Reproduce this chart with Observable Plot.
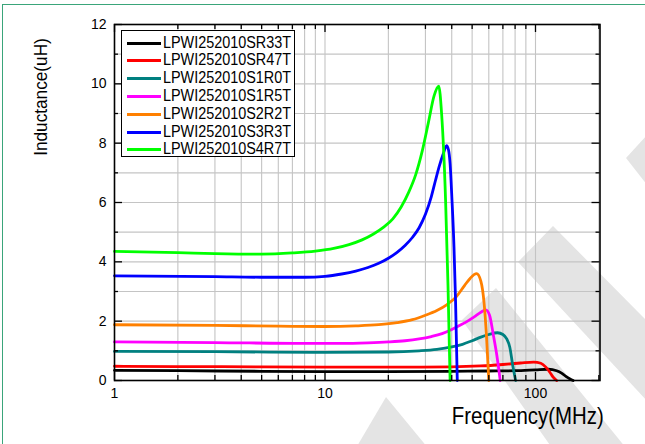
<!DOCTYPE html>
<html>
<head>
<meta charset="utf-8">
<script src="https://cdn.jsdelivr.net/npm/d3@7"></script>
<script src="https://cdn.jsdelivr.net/npm/@observablehq/plot@0.6"></script>
<style>
  html, body { margin: 0; padding: 0; background: #fff; }
  #wrap { position: relative; width: 645px; height: 444px; overflow: hidden; background: #fff;
          font-family: "Liberation Sans", Arial, sans-serif; }
  .wm { position: absolute; left: 0; top: 0; width: 645px; height: 444px; background: #e4e4e4; }
  #chart { position: absolute; left: 0; top: 0; }
  #chart svg { background: transparent !important; }
  .lbl { position: absolute; white-space: nowrap; color: #000; line-height: 1; }
  #legend { position: absolute; left: 121px; top: 30px; width: 172px; height: 125px;
            border: 1.5px solid #000; background: #fff; }
  .row { position: absolute; left: 0; height: 18px; width: 172px; }
  .row .sw { position: absolute; left: 5px; top: 8px; width: 34px; height: 3px; }
  .row .tx { position: absolute; left: 41px; top: 1px; font-size: 16px; line-height: 1;
             transform: scaleX(0.9); transform-origin: 0 0; white-space: nowrap; }
  #border { position: absolute; left: 2px; top: 4px; width: 800px; height: 600px;
            border-left: 1.5px solid #3aa57a; border-top: 1.5px solid #3aa57a; }
</style>
</head>
<body>
<div id="wrap">
  <div class="wm" style="clip-path: polygon(626px 158px, 648px 134px, 648px 186px);"></div>
  <div class="wm" style="clip-path: polygon(518px 262px, 553px 226px, 648px 322px, 648px 402px);"></div>
  <div class="wm" style="clip-path: polygon(462px 320px, 496px 288px, 626px 448px, 552px 448px);"></div>
  <div class="wm" style="clip-path: polygon(356px 448px, 386px 397px, 428px 448px);"></div>
  <div id="chart"></div>
  <div id="legend"></div>
  <div class="lbl" id="ylab" style="font-size:18.5px; left:41px; top:97px; transform: translate(-50%,-50%) rotate(-90deg) scaleX(0.93);">Inductance(uH)</div>
  <div class="lbl" id="xlab" style="font-size:24px; right:41px; top:404px; transform: scaleX(0.85); transform-origin: 100% 0;">Frequency(MHz)</div>
  <div id="border"></div>
</div>
<script>
// ---- data ----
const seriesNames = ["LPWI252010SR33T", "LPWI252010SR47T", "LPWI252010S1R0T", "LPWI252010S1R5T",
                     "LPWI252010S2R2T", "LPWI252010S3R3T", "LPWI252010S4R7T"];
const seriesColors = ["#000000", "#ff0000", "#008080", "#ff00ff", "#ff8000", "#0000ff", "#00ff00"];

const fSR33 = [1, 2, 5, 10, 20, 40, 60, 80, 100, 115, 126, 133, 140, 146, 151];
const lSR33 = [0.34, 0.33, 0.31, 0.30, 0.30, 0.31, 0.32, 0.33, 0.36, 0.38, 0.33, 0.25, 0.13, 0.05, 0];

const fSR47 = [1, 2, 5, 10, 20, 40, 55, 70, 85, 98, 106, 112, 117, 121, 126];
const lSR47 = [0.48, 0.47, 0.46, 0.45, 0.45, 0.46, 0.49, 0.54, 0.59, 0.62, 0.58, 0.45, 0.28, 0.12, 0];

const f1R0 = [1, 3, 10, 20, 28, 34, 40, 45, 50, 55, 60, 66, 70, 73, 75.5, 78, 80.5];
const l1R0 = [0.98, 0.97, 0.95, 0.96, 1.00, 1.05, 1.13, 1.22, 1.34, 1.46, 1.55, 1.61, 1.55, 1.40, 1.12, 0.50, 0];

const f1R5 = [1, 3, 8, 12, 16, 20, 24, 28, 32, 36, 40, 44, 48, 52, 55, 58, 60.5, 63, 65.5, 68];
const l1R5 = [1.30, 1.28, 1.25, 1.25, 1.27, 1.30, 1.34, 1.40, 1.48, 1.58, 1.72, 1.87, 2.02, 2.18, 2.30, 2.38, 2.20, 1.55, 0.85, 0];

const f2R2 = [1, 3, 6, 10, 14, 18, 22, 26, 30, 34, 38, 42, 46, 49, 52.5, 55, 57, 58.5, 60];
const l2R2 = [1.88, 1.86, 1.83, 1.82, 1.84, 1.88, 1.95, 2.05, 2.20, 2.36, 2.56, 2.82, 3.20, 3.45, 3.60, 3.35, 2.60, 1.50, 0];

const f3R3 = [1, 3, 5, 8, 10, 12, 14, 16, 18, 20, 22, 24, 26, 28, 30, 32, 33.5, 35, 36.5, 37.8, 38.6, 39.3, 40.1, 41.0, 41.7, 42.5];
const l3R3 = [3.53, 3.50, 3.48, 3.48, 3.51, 3.59, 3.69, 3.81, 3.95, 4.12, 4.32, 4.55, 4.82, 5.15, 5.60, 6.20, 6.75, 7.25, 7.65, 7.92, 7.78, 7.30, 6.10, 4.50, 2.70, 0];

const f4R7 = [1, 2, 3, 5, 7, 9, 11, 13, 15, 17, 19, 21, 23, 25, 27, 29, 31, 33, 34.7, 35.8, 37.4, 38.4, 39.3];
const l4R7 = [4.35, 4.31, 4.28, 4.26, 4.30, 4.36, 4.45, 4.58, 4.74, 4.94, 5.17, 5.45, 5.85, 6.35, 6.95, 7.75, 8.70, 9.60, 9.92, 9.00, 6.07, 3.20, 0];

const xTickLabels = [1, 10, 100];
const xMinor = [2, 3, 4, 5, 6, 7, 8, 9, 20, 30, 40, 50, 60, 70, 80, 90, 200];
const xGrid = [2, 3, 4, 5, 6, 7, 8, 9, 10, 20, 30, 40, 50, 60, 70, 80, 90, 100, 200];
const yTickLabels = [0, 2, 4, 6, 8, 10, 12];
const yMinor = [1, 3, 5, 7, 9, 11];
const yGrid = [1, 2, 3, 4, 5, 6, 7, 8, 9, 10, 11];

// ---- build table ----
const fArrays = [fSR33, fSR47, f1R0, f1R5, f2R2, f3R3, f4R7];
const lArrays = [lSR33, lSR47, l1R0, l1R5, l2R2, l3R3, l4R7];
const rows = [];
seriesNames.forEach((name, i) => {
  fArrays[i].forEach((f, j) => rows.push({series: name, f, L: lArrays[i][j]}));
});

const W = 645, H = 444, mL = 114, mR = 45.5, mT = 24, mB = 64;
const pW = W - mL - mR, pH = H - mT - mB;

const chart = Plot.plot({
  width: W, height: H,
  marginLeft: mL, marginRight: mR, marginTop: mT, marginBottom: mB,
  style: {fontFamily: '"Liberation Sans", Arial, sans-serif', background: "transparent"},
  x: {type: "log", domain: [1, 202.5], axis: null},
  y: {domain: [0, 12], axis: null},
  color: {domain: seriesNames, range: seriesColors},
  marks: [
    Plot.gridX(xGrid, {stroke: "#c4c4c4", strokeOpacity: 1, strokeWidth: 1.1}),
    Plot.gridY(yGrid, {stroke: "#c4c4c4", strokeOpacity: 1, strokeWidth: 1.1}),
    Plot.line(rows, {x: "f", y: "L", z: "series", stroke: "series", strokeWidth: 2.8, curve: "monotone-x"}),
    // inward ticks (bottom / top)
    Plot.tickX(xTickLabels, {x: d => d, insetTop: pH - 8, stroke: "#000", strokeWidth: 1.3}),
    Plot.tickX(xMinor, {x: d => d, insetTop: pH - 5, stroke: "#000", strokeWidth: 1.3}),
    Plot.tickX(xTickLabels, {x: d => d, insetBottom: pH - 8, stroke: "#000", strokeWidth: 1.3}),
    Plot.tickX(xMinor, {x: d => d, insetBottom: pH - 5, stroke: "#000", strokeWidth: 1.3}),
    // inward ticks (left / right)
    Plot.tickY(yTickLabels, {y: d => d, insetRight: pW - 8, stroke: "#000", strokeWidth: 1.3}),
    Plot.tickY(yMinor, {y: d => d, insetRight: pW - 4, stroke: "#000", strokeWidth: 1.3}),
    Plot.tickY(yTickLabels, {y: d => d, insetLeft: pW - 8, stroke: "#000", strokeWidth: 1.3}),
    Plot.tickY(yMinor, {y: d => d, insetLeft: pW - 4, stroke: "#000", strokeWidth: 1.3}),
    Plot.frame({stroke: "#000", strokeWidth: 1.6}),
    Plot.axisX(xTickLabels, {tickSize: 0, tickPadding: 8, fontSize: 14, label: null, tickFormat: d => String(d)}),
    Plot.axisY(yTickLabels, {tickSize: 0, tickPadding: 8, fontSize: 14, label: null, tickFormat: d => String(d)})
  ]
});
document.getElementById("chart").appendChild(chart);

// ---- legend ----
const leg = document.getElementById("legend");
seriesNames.forEach((name, i) => {
  const r = document.createElement("div");
  r.className = "row";
  r.style.top = (2.5 + i * 17.8) + "px";
  const sw = document.createElement("div");
  sw.className = "sw";
  sw.style.background = seriesColors[i];
  const tx = document.createElement("div");
  tx.className = "tx";
  tx.textContent = name;
  r.appendChild(sw); r.appendChild(tx);
  leg.appendChild(r);
});
</script>
</body>
</html>
